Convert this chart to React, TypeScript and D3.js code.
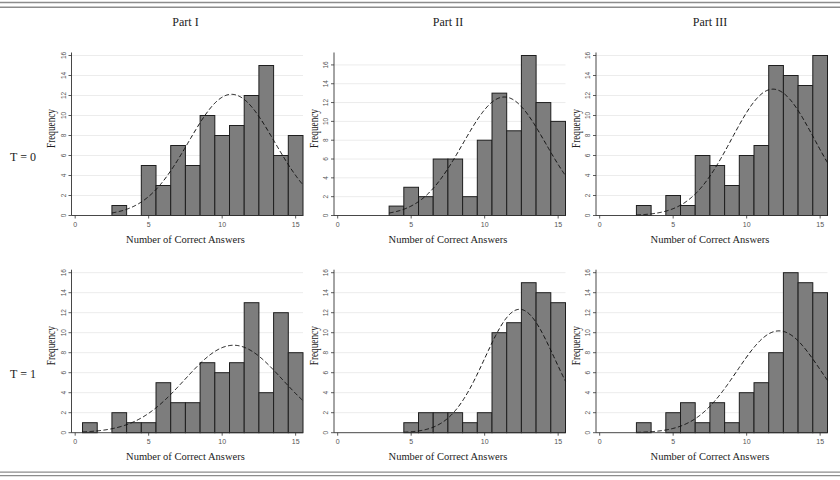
import React from "react";
import * as d3 from "d3";

// score bins (number of correct answers)
const scores = [0, 1, 2, 3, 4, 5, 6, 7, 8, 9, 10, 11, 12, 13, 14, 15];

const partLabels = ["Part I", "Part II", "Part III"];
const groupLabels = ["T = 0", "T = 1"];

// frequencies per score, group T = 0
const t0PartI = [0, 0, 0, 1, 0, 5, 3, 7, 5, 10, 8, 9, 12, 15, 6, 8];
const t0PartII = [0, 0, 0, 0, 1, 3, 2, 6, 6, 2, 8, 13, 9, 17, 12, 10];
const t0PartIII = [0, 0, 0, 1, 0, 2, 1, 6, 5, 3, 6, 7, 15, 14, 13, 16];

// frequencies per score, group T = 1
const t1PartI = [0, 1, 0, 2, 1, 1, 5, 3, 3, 7, 6, 7, 13, 4, 12, 8];
const t1PartII = [0, 0, 0, 0, 0, 1, 2, 2, 2, 1, 2, 10, 11, 15, 14, 13];
const t1PartIII = [0, 0, 0, 1, 0, 2, 3, 1, 3, 1, 4, 5, 8, 16, 15, 14];

// normal fit overlaid on each histogram (row-major: T=0 parts, then T=1 parts)
const fitMean = [10.64, 11.34, 11.79, 10.78, 12.38, 12.2];
const fitSd = [2.93, 2.82, 2.81, 3.33, 2.36, 2.86];

const yTicks = [0, 2, 4, 6, 8, 10, 12, 14, 16];
const xTicks = [0, 5, 10, 15];

const panels = [
  [t0PartI, t0PartII, t0PartIII],
  [t1PartI, t1PartII, t1PartIII],
];

const colX = [71.5, 334, 596];
const rowY0 = [215.5, 432.7];
const panelW = 231.5;
const panelH = 160;

const serif = "'Liberation Serif', 'Times New Roman', serif";
const sans = "'Liberation Sans', Arial, sans-serif";

type HistProps = {
  counts: number[];
  mean: number;
  sd: number;
  x0: number;
  y0: number;
};

function Histogram({ counts, mean, sd, x0, y0 }: HistProps) {
  const x = d3.scaleLinear().domain([-0.25, 15.5]).range([x0, x0 + panelW]);
  const yMax = Math.max(16, d3.max(counts) as number);
  const y = d3.scaleLinear().domain([0, yMax]).range([y0, y0 - panelH]);

  const n = d3.sum(counts);
  const used = scores.filter((s, i) => counts[i] > 0);
  const lo = (d3.min(used) as number) - 0.5;
  const hi = (d3.max(used) as number) + 0.5;
  const dens = (v: number) =>
    (n / (sd * Math.sqrt(2 * Math.PI))) * Math.exp(-0.5 * ((v - mean) / sd) ** 2);
  const curvePts = d3.range(lo, hi + 0.001, 0.05).map((v) => [v, dens(v)] as [number, number]);
  const line = d3
    .line<[number, number]>()
    .x((d) => x(d[0]))
    .y((d) => y(d[1]))
    .curve(d3.curveBasis);

  return (
    <g>
      {/* grid */}
      {yTicks.filter((t) => t > 0).map((t) => (
        <line key={"g" + t} x1={x0} x2={x0 + panelW} y1={y(t)} y2={y(t)} stroke="#ececec" strokeWidth={1} />
      ))}
      {/* bars */}
      {scores.map((s, i) =>
        counts[i] > 0 ? (
          <rect
            key={"b" + s}
            x={x(s - 0.5)}
            y={y(counts[i])}
            width={x(s + 0.5) - x(s - 0.5)}
            height={y(0) - y(counts[i])}
            fill="#7d7d7d"
            stroke="#1e1e1e"
            strokeWidth={1}
          />
        ) : null
      )}
      {/* normal density */}
      <path d={line(curvePts) || ""} fill="none" stroke="#111" strokeWidth={1} strokeDasharray="4.5,2.5" />
      {/* axes */}
      <line x1={x0} x2={x0} y1={y0} y2={y(yMax) - 3} stroke="#333" strokeWidth={0.9} />
      <line x1={x0} x2={x0 + panelW} y1={y0} y2={y0} stroke="#333" strokeWidth={0.9} />
      {yTicks.map((t) => (
        <g key={"y" + t}>
          <line x1={x0 - 3} x2={x0} y1={y(t)} y2={y(t)} stroke="#333" strokeWidth={0.8} />
          <text
            transform={`translate(${x0 - 6},${y(t)}) rotate(-90)`}
            textAnchor="middle"
            fontFamily={sans}
            fontSize={6.5}
            fill="#555"
          >
            {t}
          </text>
        </g>
      ))}
      {xTicks.map((t) => (
        <g key={"x" + t}>
          <line x1={x(t)} x2={x(t)} y1={y0} y2={y0 + 3} stroke="#333" strokeWidth={0.8} />
          <text x={x(t)} y={y0 + 11.5} textAnchor="middle" fontFamily={sans} fontSize={7} fill="#555">
            {t}
          </text>
        </g>
      ))}
      <text
        transform={`translate(${x0 - 16.5},${y0 - 87}) rotate(-90)`}
        textAnchor="middle"
        fontFamily={serif}
        fontSize={11.5}
        fill="#222"
        textLength={39}
        lengthAdjust="spacingAndGlyphs"
      >
        Frequency
      </text>
      <text x={x(7.5)} y={y0 + 27} textAnchor="middle" fontFamily={serif} fontSize={10.5} fill="#222">
        Number of Correct Answers
      </text>
    </g>
  );
}

export default function App() {
  return (
    <svg
      width={840}
      height={480}
      style={{ position: "absolute", left: 0, top: 0, background: "#fff" }}
    >
      <rect width={840} height={480} fill="#fff" />
      {/* double rules */}
      <line x1={0} x2={840} y1={2.5} y2={2.5} stroke="#8c8c8c" strokeWidth={1.5} />
      <line x1={0} x2={840} y1={7.3} y2={7.3} stroke="#8c8c8c" strokeWidth={1.5} />
      <line x1={0} x2={840} y1={472.2} y2={472.2} stroke="#8c8c8c" strokeWidth={1.3} />
      <line x1={0} x2={840} y1={475.6} y2={475.6} stroke="#8c8c8c" strokeWidth={1.3} />

      {partLabels.map((p, c) => (
        <text key={p} x={colX[c] + 114} y={26} textAnchor="middle" fontFamily={serif} fontSize={12} fill="#222">
          {p}
        </text>
      ))}
      {groupLabels.map((g, r) => (
        <text key={g} x={23} y={rowY0[r] - 55} textAnchor="middle" fontFamily={serif} fontSize={12} fill="#222">
          {g}
        </text>
      ))}

      {panels.map((row, r) =>
        row.map((counts, c) => (
          <Histogram
            key={r + "-" + c}
            counts={counts}
            mean={fitMean[r * 3 + c]}
            sd={fitSd[r * 3 + c]}
            x0={colX[c]}
            y0={rowY0[r]}
          />
        ))
      )}
    </svg>
  );
}
